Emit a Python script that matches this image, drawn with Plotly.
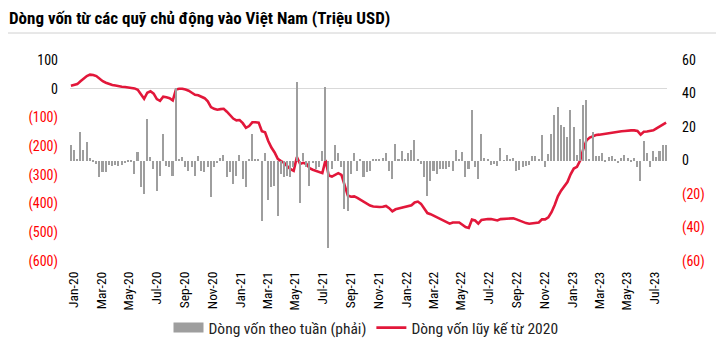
import pandas as pd
import plotly.graph_objects as go

title = "Dòng vốn từ các quỹ chủ động vào Việt Nam (Triệu USD)"
bar_name = "Dòng vốn theo tuần (phải)"
line_name = "Dòng vốn lũy kế từ 2020"
start_date = "2019-12-25"

weekly = [
    9.5, 6.5, 0.4, 17, 6, 11, 1.6, -1, -2, -10, -7, -7, -2.6, -3, -2.6, -3, -2.6, -1.6, -1, -1,
    -8, 5, -16, -20, 25, 2, -5, -18, -9.5, 16, -3, -4, -9.5, 43.5, 0.4, 2, -4, -6.5, -4, -9,
    2.4, -6, -7, -4, -21.5, -4, -1.4, 1.4, 3.4, -10, -7, -14, -9.5, 3.4, -11, -16, 0.8, 16, 1, 0.5,
    -36, 4.5, -23.5, -16, -15.5, -33, -8, -10, -9, -10, -4, 47, -25.5, 4.5, -4, -15.5, -1.6, -5, -4, 5.5,
    44, -52, -5, 9.5, 4.5, -4, -29, -30, -8, 4.5, -6, 0.5, -10, -7, -6, 0.4, 0.4, 0.8, 1.4, 4.6,
    -6, -11, 10, 0.4, 5.5, 0.8, 4.5, 6, 12, 0.4, -2, -10, -21, -12, -6, -8, -5, -5, -5, -4,
    -6, 6, 0.4, 4.8, -10, -5, 30, -4, -11, 16, 1.6, 0.8, -2.6, -2, -3, 7.7, 0.2, 3, 0.4, 1.6,
    -6.5, -5.5, -3.6, -3, -2.6, 2.4, 2.4, 0.4, 15, -3.6, 4, 16, 27, 32, 21, 20, 14, 30, 20, 3,
    13, 33, 36, 1, 17, 2.8, 2.8, 4.4, -0.4, 2, 2.8, 0.8, -1.6, 1.6, 3, 1.6, -1, 1.2, -4, -12,
    11.5, 4.4, -4, 5.6, 2, 5.6, 9.5, 9,
]

cumulative = [
    10, 13, 16, 26, 35, 44, 49, 48, 44, 34, 26, 21, 16, 13, 11, 8, 7, 6, 4, 2,
    1, -4, -18, -35, -14, -9, -17, -36, -42, -28, -30, -33, -41, -3, 0, 0, -3, -7, -14, -21,
    -23, -29, -33, -44, -64, -70, -73, -71, -70, -80, -92, -104, -110, -109, -120, -136, -130, -117, -117, -118,
    -148, -152, -182, -205, -222, -244, -252, -258, -270, -280, -286, -238, -262, -258, -262, -277, -282, -286, -292, -294,
    -248, -302, -306, -300, -294, -300, -340, -372, -376, -375, -380, -387, -394, -401, -407, -410, -412, -412, -411, -408,
    -416, -427, -420, -417, -415, -413, -410, -406, -396, -393, -401, -419, -433, -437, -443, -448, -454, -459, -464, -470,
    -466, -466, -466, -474, -482, -485, -456, -459, -470, -457, -455, -454, -454, -456, -459, -454, -453, -452, -452, -451,
    -455, -459, -465, -468, -470, -469, -467, -466, -455, -455, -448, -430, -405, -375, -355, -338, -325, -298, -278, -272,
    -250, -210, -180, -170, -164, -161, -160, -158, -156, -154, -152, -150, -150, -148, -147, -145, -145, -145, -147, -160,
    -150, -149, -147, -145, -138, -132, -125, -118,
]

left_ticks = [100, 0, -100, -200, -300, -400, -500, -600]
right_ticks = [60, 40, 20, 0, -20, -40, -60]

RED_TXT = "#ff0000"
BAR_COLOR = "#9e9e9e"
LINE_COLOR = "#e2173a"


def fmt(v):
    if v < 0:
        return f'<span style="color:{RED_TXT}">({abs(v)})</span>'
    return str(v)


dates = pd.date_range(start_date, periods=len(weekly), freq="7D")

FONT = "Liberation Sans Narrow, Roboto Condensed, Arial Narrow, Liberation Sans, Arial, sans-serif"

# figure is drawn inside the page body (8px default margin), so size is reduced accordingly
W, H = 716, 348
L, R, T, B = 62, 57, 52, 95
PW = W - L - R
PH = H - T - B

fig = go.Figure()
fig.add_trace(go.Bar(
    x=dates, y=weekly, name=bar_name, yaxis="y2", showlegend=False,
    marker=dict(color=BAR_COLOR, line=dict(width=0)),
    width=3.4 * 86400000,
))
# legend swatch for the bars (wide grey block like the original)
fig.add_trace(go.Scatter(
    x=[None], y=[None], name=bar_name, yaxis="y2", mode="lines",
    line=dict(color=BAR_COLOR, width=10), hoverinfo="skip",
))
fig.add_trace(go.Scatter(
    x=dates, y=cumulative, name=line_name, yaxis="y",
    mode="lines", line=dict(color=LINE_COLOR, width=2.6),
))

x0 = dates[0] - pd.Timedelta(days=2)
x1 = dates[-1] + pd.Timedelta(days=2)

sep_y = (H - B - 25) / PH

fig.update_layout(
    width=W, height=H,
    margin=dict(l=L, r=R, t=T, b=B, autoexpand=False),
    paper_bgcolor="white", plot_bgcolor="white",
    font=dict(family=FONT, size=13, color="#000000"),
    title=dict(text=f"<b>{title}</b>", x=1 / W, xanchor="left", xref="container",
               y=1 - 10 / H, yanchor="middle", yref="container",
               font=dict(family=FONT, size=17, color="#000000")),
    bargap=0,
    showlegend=True,
    legend=dict(orientation="h", x=(366 - 8 - L) / PW, xanchor="center",
                y=-(320 - (H - B)) / PH, yanchor="middle",
                font=dict(family=FONT, size=15.5, color="#222222"), traceorder="normal",
                itemwidth=30, bgcolor="rgba(0,0,0,0)"),
    xaxis=dict(
        type="date", range=[x0, x1], tickformat="%b-%y", dtick="M2", tick0="2020-01-01",
        tickangle=-90, showgrid=False, zeroline=False, showline=False, ticks="",
        ticklabelstandoff=7,
        tickfont=dict(family=FONT, size=13.5, color="#000000"),
    ),
    yaxis=dict(
        range=[-600, 100], tickvals=left_ticks, ticktext=[fmt(v) for v in left_ticks],
        showgrid=False, zeroline=True, zerolinecolor="#d9d9d9", zerolinewidth=1,
        showline=False, ticks="", ticklabelstandoff=11, tickfont=dict(family=FONT, size=14),
    ),
    yaxis2=dict(
        range=[-60, 60], tickvals=right_ticks, ticktext=[fmt(v) for v in right_ticks],
        overlaying="y", side="right", showgrid=False, zeroline=False, showline=False,
        ticks="", ticklabelstandoff=14, tickfont=dict(family=FONT, size=14),
    ),
    shapes=[dict(type="line", xref="paper", yref="paper",
                 x0=(-6 - L) / PW, x1=(W - L + 6) / PW,
                 y0=sep_y, y1=sep_y,
                 line=dict(color="#d0d0d0", width=1))],
)

fig.write_html("out.html")
